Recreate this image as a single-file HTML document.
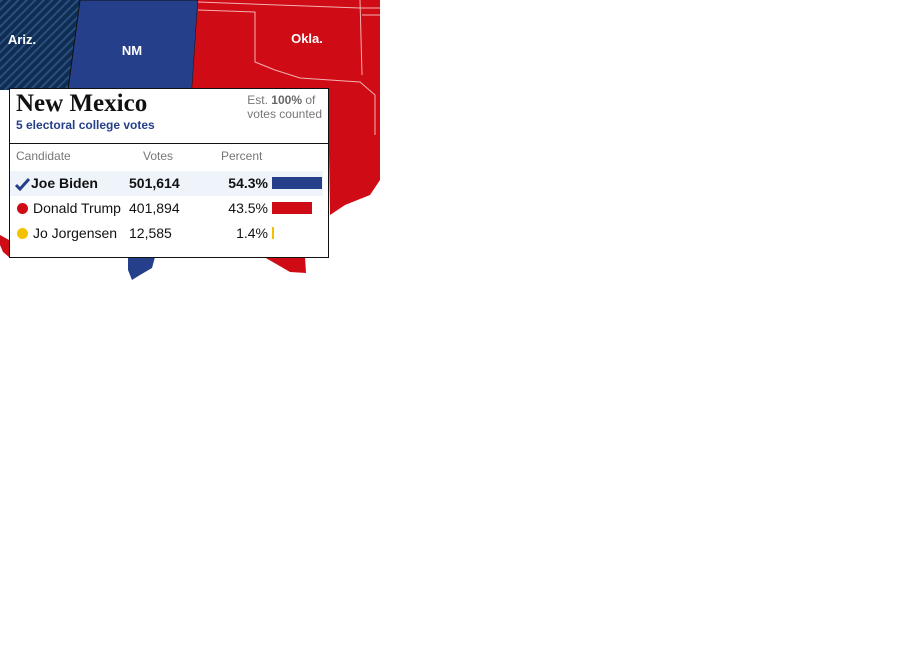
<!DOCTYPE html>
<html><head><meta charset="utf-8"><style>
body{margin:0;width:914px;height:652px;background:#fff;overflow:hidden;position:relative;font-family:"Liberation Sans",sans-serif}
#map{position:absolute;left:0;top:0}
#box{position:absolute;left:9px;top:88px;width:318px;height:168px;background:#fff;border:1px solid #111;box-sizing:content-box}
.t{position:absolute;white-space:nowrap}
</style></head><body>
<svg id="map" width="380" height="285" viewBox="0 0 380 285">
<defs><pattern id="hatch" width="6" height="6" patternUnits="userSpaceOnUse" patternTransform="rotate(45)"><rect width="6" height="6" fill="#0f2d52"/><rect width="2" height="6" fill="#2a4f7f"/></pattern></defs>
<polygon points="0,0 80,0 68,90 0,90" fill="url(#hatch)"/>
<polygon points="80,0 198,0 192,90 68,90" fill="#253f8b" stroke="#111" stroke-width="1"/>
<polygon points="198,0 380,0 380,180 370,195 345,205 330,215 328,90 192,90" fill="#cf0b15"/>
<polyline points="198,2 360,8 380,8" fill="none" stroke="#f4b0b0" stroke-width="1"/>
<polyline points="198,10 255,12 255,62 275,70 300,78 330,80 360,82 375,95 375,135" fill="none" stroke="#f4b0b0" stroke-width="1"/>
<polyline points="360,0 362,75" fill="none" stroke="#f4b0b0" stroke-width="1"/>
<polyline points="362,15 380,15" fill="none" stroke="#f4b0b0" stroke-width="1"/>
<polygon points="264,257 305,257 306,273 290,272 278,265" fill="#cf0b15"/>
<polygon points="128,257 155,257 152,268 140,275 132,280 128,270" fill="#253f8b"/>
<polygon points="0,235 9,240 9,257 3,252 0,245" fill="#cf0b15"/>
<text x="22" y="44" font-size="13" font-weight="bold" fill="#fff" text-anchor="middle" font-family="Liberation Sans">Ariz.</text>
<text x="132" y="55" font-size="13" font-weight="bold" fill="#fff" text-anchor="middle" font-family="Liberation Sans">NM</text>
<text x="307" y="43" font-size="13" font-weight="bold" fill="#fff" text-anchor="middle" font-family="Liberation Sans">Okla.</text>
</svg>
<div id="box">
<div class="t" style="left:6px;top:1px;font-family:'Liberation Serif',serif;font-weight:bold;font-size:25px;color:#111">New Mexico</div>
<div class="t" style="left:6px;top:29px;font-size:12px;font-weight:bold;color:#253f8b">5 electoral college votes</div>
<div class="t" style="right:6px;top:4px;font-size:12px;color:#777;line-height:14px;text-align:left">Est. <b style="color:#666">100%</b> of<br>votes counted</div>
<div style="position:absolute;left:0;right:0;top:54px;border-top:1px solid #111"></div>
<div class="t" style="left:6px;top:60px;font-size:12px;color:#777">Candidate</div>
<div class="t" style="left:133px;top:60px;font-size:12px;color:#777">Votes</div>
<div class="t" style="left:211px;top:60px;font-size:12px;color:#777">Percent</div>
<div id="rows"></div>
</div>
<script>
const names=["Joe Biden","Donald Trump","Jo Jorgensen"];
const votes=["501,614","401,894","12,585"];
const percents=[54.3,43.5,1.4];
const colors=["#253f8b","#cf0b15","#f2c200"];
const rows=document.getElementById('rows');
const maxP=Math.max(...percents);
const barX=w=>w/maxP*50;
names.forEach((n,i)=>{
 const top=82+i*25;
 const r=document.createElement('div');
 
 
 r.style.cssText=`position:absolute;left:0;width:313px;top:${top}px;height:25px;font-size:14px;color:#111;${i==0?'background:#eef4f9;font-weight:bold;':''}`;
 const mark=i==0?`<svg style="position:absolute;left:5px;top:7px" width="16" height="13"><polyline points="1,7 5,11 14,1" fill="none" stroke="#253f8b" stroke-width="3"/></svg>`:`<div style="position:absolute;left:7px;top:7px;width:11px;height:11px;border-radius:50%;background:${colors[i]}"></div>`;
 r.innerHTML=mark+`<span class="t" style="left:${i==0?21:23}px;top:4px">${n}</span><span class="t" style="left:119px;top:4px">${votes[i]}</span><span class="t" style="right:55px;top:4px">${percents[i].toFixed(1)}%</span><div style="position:absolute;left:262px;top:6px;height:12px;width:${Math.max(1.5,barX(percents[i]))}px;background:${colors[i]}"></div>`;
 rows.appendChild(r);
});
</script>
</body></html>
